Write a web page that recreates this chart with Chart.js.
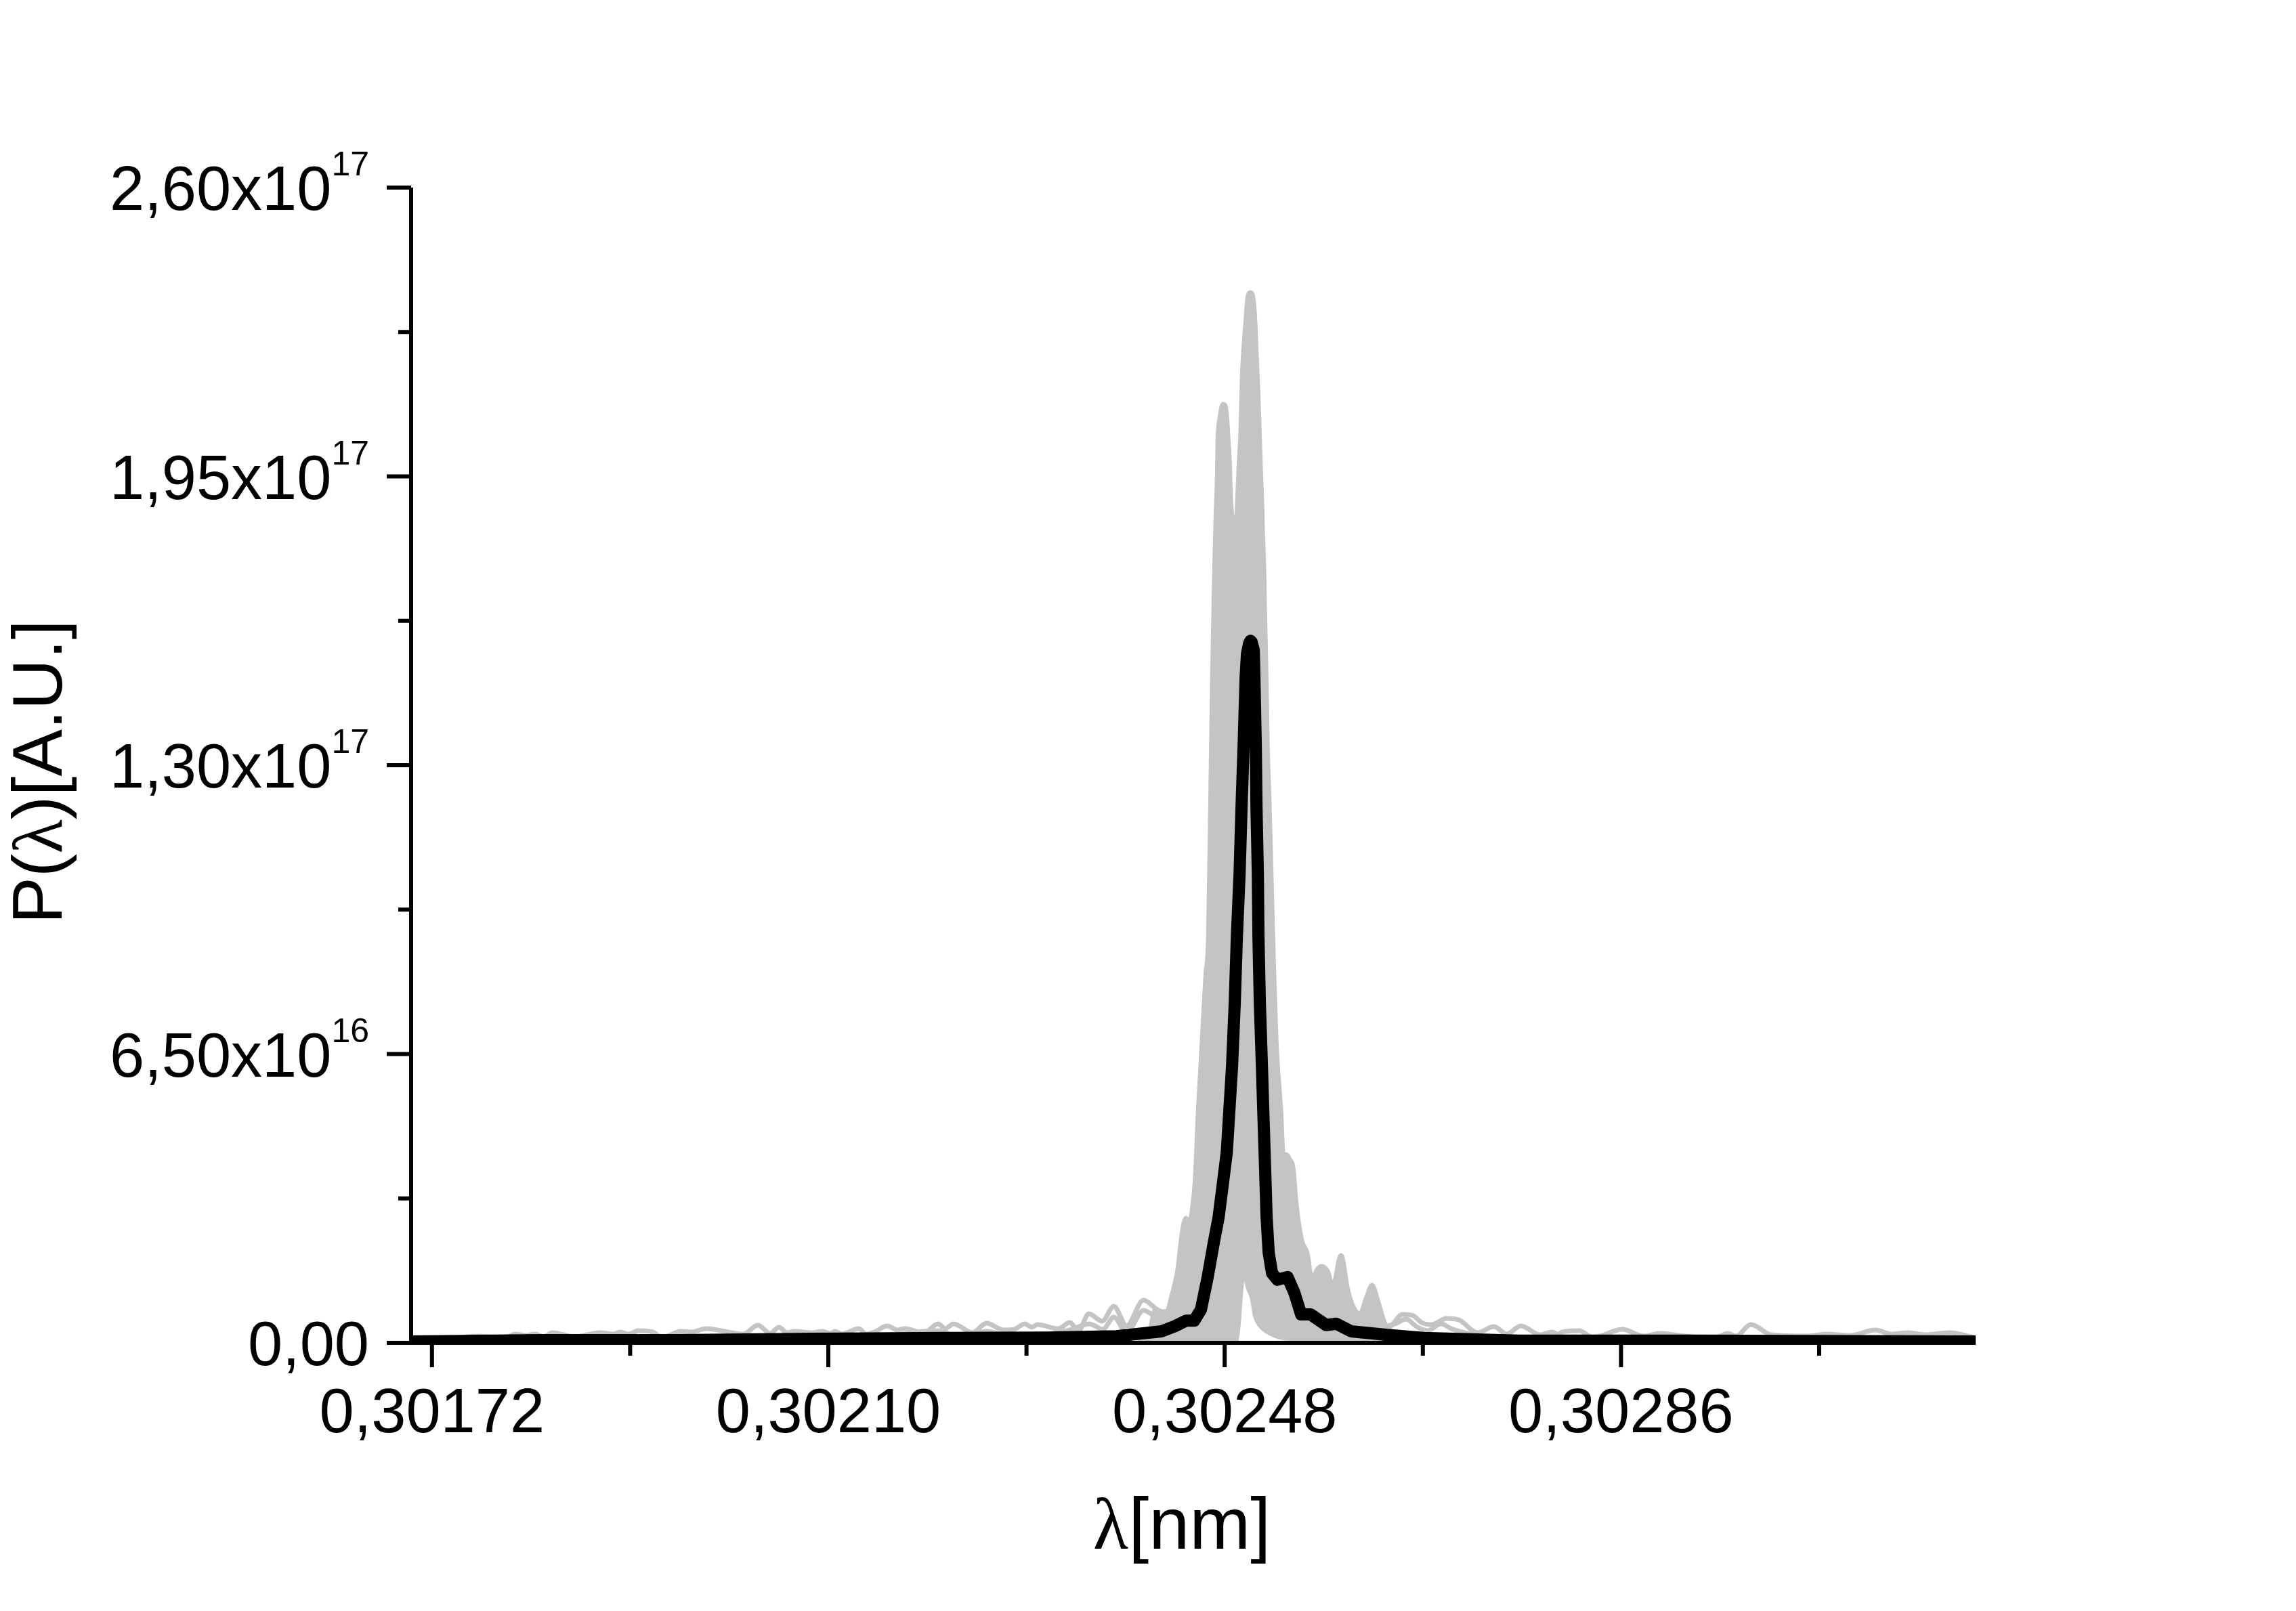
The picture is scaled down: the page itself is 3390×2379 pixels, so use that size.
<!DOCTYPE html>
<html>
<head>
<meta charset="utf-8">
<title>P(λ) spectra</title>
<script src="https://cdn.jsdelivr.net/npm/chart.js@4.4.1/dist/chart.umd.min.js"></script>
<style>
    html, body { margin: 0; padding: 0; background: #ffffff; }
    canvas { display: block; }
</style>
</head>
<body>
<canvas id="spectrumChart" width="3390" height="2379"></canvas>
<script>

// ======================
// DATA  (λ in nm, P in units of 10^17 A.U.)
// ======================

// mean spectrum (black)
const meanLambda = [
    0.3017000, 0.3018250, 0.3019548, 0.3020844, 0.3022141, 0.3023114, 0.3023763,
    0.3024197, 0.3024327, 0.3024430, 0.3024508, 0.3024573, 0.3024638, 0.3024696,
    0.3024742, 0.3024781, 0.3024820, 0.3024845, 0.3024871, 0.3024897, 0.3024917,
    0.3024943, 0.3024962, 0.3024982, 0.3025001, 0.3025014, 0.3025034, 0.3025047,
    0.3025059, 0.3025079, 0.3025085, 0.3025098, 0.3025105, 0.3025118, 0.3025124,
    0.3025137, 0.3025157, 0.3025170, 0.3025183, 0.3025202, 0.3025222, 0.3025254,
    0.3025306, 0.3025403, 0.3025468, 0.3025533, 0.3025624, 0.3025773, 0.3025870,
    0.3026013, 0.3026356, 0.3026707, 0.3027621, 0.3029275, 0.3031985
];
const meanPower = [
    0.003, 0.006, 0.006, 0.009, 0.011, 0.012, 0.015,
    0.026, 0.038, 0.050, 0.050, 0.075, 0.149, 0.226,
    0.283, 0.355, 0.428, 0.523, 0.623, 0.767, 0.914,
    1.056, 1.207, 1.346, 1.498, 1.551, 1.574, 1.580,
    1.577, 1.559, 1.498, 1.346, 1.207, 1.056, 0.914,
    0.767, 0.623, 0.523, 0.428, 0.283, 0.203, 0.157,
    0.142, 0.148, 0.113, 0.064, 0.064, 0.040, 0.043,
    0.026, 0.018, 0.011, 0.005, 0.005, 0.003
];

// single shots, upper bound of the dense core (grey)
const coreTopLambda = [
    0.3023957, 0.3024087, 0.3024132, 0.3024190, 0.3024249, 0.3024294, 0.3024346,
    0.3024398, 0.3024430, 0.3024463, 0.3024495, 0.3024521, 0.3024547, 0.3024573,
    0.3024593, 0.3024619, 0.3024644, 0.3024664, 0.3024683, 0.3024696, 0.3024703,
    0.3024716, 0.3024729, 0.3024735, 0.3024755, 0.3024774, 0.3024787, 0.3024807,
    0.3024820, 0.3024833, 0.3024845, 0.3024858, 0.3024878, 0.3024897, 0.3024910,
    0.3024923, 0.3024936, 0.3024956, 0.3024969, 0.3024982, 0.3025001, 0.3025021,
    0.3025046, 0.3025072, 0.3025092, 0.3025105, 0.3025118, 0.3025131, 0.3025144,
    0.3025157, 0.3025163, 0.3025176, 0.3025183, 0.3025196, 0.3025209, 0.3025228,
    0.3025247, 0.3025267, 0.3025293, 0.3025338, 0.3025364, 0.3025390, 0.3025423,
    0.3025455, 0.3025487, 0.3025539, 0.3025591, 0.3025637, 0.3025682, 0.3025727,
    0.3025786, 0.3025838, 0.3025915, 0.3025980, 0.3026032, 0.3026097, 0.3026162,
    0.3026214, 0.3026266, 0.3026324, 0.3026389
];
const coreTopPower = [
    0.0076, 0.0320, 0.0732, 0.0701, 0.0716, 0.1067, 0.1585,
    0.2560, 0.2804, 0.2713, 0.3094, 0.3810, 0.5227, 0.6294,
    0.7178, 0.8275, 0.9114, 1.1933, 1.4981, 1.6505, 1.7358,
    1.8578, 1.9461, 2.0284, 2.0818, 2.1077, 2.1123, 2.1077,
    2.0818, 2.0345, 1.9873, 1.8943, 1.8532, 1.8303, 1.8258,
    1.8943, 1.9660, 2.0589, 2.1763, 2.2342, 2.2921, 2.3515,
    2.3637, 2.3515, 2.2921, 2.2174, 2.1473, 2.0589, 1.9660,
    1.8852, 1.8258, 1.7389, 1.6505, 1.5164, 1.3457, 1.2070,
    1.0409, 0.8656, 0.6812, 0.5227, 0.4145, 0.4237, 0.4130,
    0.3947, 0.3094, 0.2301, 0.2012, 0.1417, 0.1631, 0.1722,
    0.1615, 0.1265, 0.1966, 0.1189, 0.0808, 0.0655, 0.1036,
    0.1295, 0.0960, 0.0503, 0.0122
];

// single shots, lower bound of the core (gap under the peak)
const coreLowLambda = [
    0.3023957, 0.3024904, 0.3024930, 0.3024956, 0.3024975, 0.3024995, 0.3025027,
    0.3025066, 0.3025092, 0.3025144, 0.3025254, 0.3025384, 0.3026389
];
const coreLowPower = [
    0.0030, 0.0030, 0.0381, 0.1189, 0.1494, 0.1494, 0.1234,
    0.0991, 0.0625, 0.0381, 0.0198, 0.0107, 0.0030
];

// single shots, left wing
const wingLeftLambda = [
    0.3017000, 0.3017375, 0.3017647, 0.3017894, 0.3017998, 0.3018095, 0.3018192,
    0.3018270, 0.3018354, 0.3018568, 0.3018815, 0.3018938, 0.3019003, 0.3019087,
    0.3019178, 0.3019314, 0.3019411, 0.3019586, 0.3019684, 0.3019833, 0.3020040,
    0.3020183, 0.3020326, 0.3020442, 0.3020527, 0.3020604, 0.3020676, 0.3020844,
    0.3020942, 0.3021020, 0.3021065, 0.3021130, 0.3021292, 0.3021363, 0.3021441,
    0.3021564, 0.3021661, 0.3021739, 0.3021914, 0.3022051, 0.3022122, 0.3022200,
    0.3022381, 0.3022517, 0.3022680, 0.3022783, 0.3022881, 0.3022952, 0.3023004,
    0.3023205, 0.3023315, 0.3023399, 0.3023497, 0.3023626, 0.3023737, 0.3023860,
    0.3024022, 0.3024145, 0.3024229
];
const wingLeftPower = [
    0.0122, 0.0107, 0.0152, 0.0107, 0.0198, 0.0168, 0.0198,
    0.0137, 0.0229, 0.0137, 0.0229, 0.0198, 0.0244, 0.0198,
    0.0274, 0.0244, 0.0122, 0.0259, 0.0244, 0.0320, 0.0244,
    0.0198, 0.0396, 0.0213, 0.0351, 0.0229, 0.0259, 0.0229,
    0.0259, 0.0213, 0.0259, 0.0198, 0.0320, 0.0198, 0.0244,
    0.0381, 0.0290, 0.0320, 0.0213, 0.0427, 0.0320, 0.0427,
    0.0229, 0.0442, 0.0290, 0.0305, 0.0427, 0.0351, 0.0411,
    0.0320, 0.0457, 0.0274, 0.0655, 0.0488, 0.0823, 0.0381,
    0.0960, 0.0762, 0.0655
];

const wingLeft2Lambda = [
    0.3021493, 0.3022051, 0.3022271, 0.3022517, 0.3022790, 0.3023315, 0.3023503,
    0.3023633, 0.3023737, 0.3023860, 0.3024022, 0.3024165, 0.3024249
];
const wingLeft2Power = [
    0.0122, 0.0274, 0.0122, 0.0259, 0.0122, 0.0290, 0.0427,
    0.0305, 0.0579, 0.0229, 0.0732, 0.0533, 0.0472
];

// single shots, right wing
const wingRightLambda = [
    0.3026343, 0.3026369, 0.3026506, 0.3026609, 0.3026687, 0.3026784, 0.3026927,
    0.3027044, 0.3027225, 0.3027381, 0.3027504, 0.3027640, 0.3027822, 0.3027939,
    0.3027997, 0.3028036, 0.3028198, 0.3028334, 0.3028613, 0.3028814, 0.3028970,
    0.3029210, 0.3029489, 0.3029625, 0.3029703, 0.3029845, 0.3030040, 0.3030403,
    0.3030558, 0.3030798, 0.3031038, 0.3031194, 0.3031356, 0.3031512, 0.3031752,
    0.3031985
];
const wingRightPower = [
    0.0381, 0.0351, 0.0640, 0.0610, 0.0457, 0.0411, 0.0549,
    0.0518, 0.0229, 0.0366, 0.0198, 0.0381, 0.0183, 0.0244,
    0.0198, 0.0244, 0.0274, 0.0122, 0.0305, 0.0152, 0.0213,
    0.0152, 0.0107, 0.0213, 0.0152, 0.0411, 0.0183, 0.0152,
    0.0198, 0.0168, 0.0290, 0.0198, 0.0229, 0.0183, 0.0229,
    0.0122
];

const wingRight2Lambda = [
    0.3026292, 0.3026434, 0.3026538, 0.3026648, 0.3026745, 0.3026875, 0.3026972,
    0.3027102, 0.3027329, 0.3027718
];
const wingRight2Power = [
    0.0351, 0.0427, 0.0533, 0.0351, 0.0274, 0.0427, 0.0320,
    0.0229, 0.0122, 0.0107
];

// axes
const xMajorTicks = [0.30172, 0.30210, 0.30248, 0.30286];
const xTickLabels = ["0,30172", "0,30210", "0,30248", "0,30286"];
const xMinorTicks = [0.30191, 0.30229, 0.30267, 0.30305];

const yMajorTicks = [0, 0.65, 1.30, 1.95, 2.60];
const yTickLabels = ["0,00", "6,50x10", "1,30x10", "1,95x10", "2,60x10"];
const yTickExponents = ["", "16", "17", "17", "17"];
const yMinorTicks = [0.325, 0.975, 1.625, 2.275];


// ======================
// HELPERS
// ======================

const GREY = "#c4c4c4";
const SANS = "'Liberation Sans', Arial, sans-serif";
const SERIF = "'Liberation Serif', 'Times New Roman', serif";

function points(xs, ys) {
    return xs.map((x, i) => ({ x: x, y: ys[i] }));
}

function greyLine(xs, ys) {
    return {
        data: points(xs, ys),
        borderColor: GREY,
        borderWidth: 7,
        pointRadius: 0,
        fill: false,
        cubicInterpolationMode: "monotone",
        borderJoinStyle: "round",
        borderCapStyle: "round",
        order: 2
    };
}

// draw a row of text runs with different fonts
function drawRuns(ctx, runs, cx, baseline) {
    let total = 0;
    runs.forEach(r => {
        ctx.font = r.font;
        r.w = ctx.measureText(r.text).width;
        total += r.w;
    });
    let x = cx - total / 2;
    ctx.textAlign = "left";
    ctx.textBaseline = "alphabetic";
    runs.forEach(r => {
        ctx.font = r.font;
        ctx.fillText(r.text, x, baseline);
        x += r.w;
    });
}


// ======================
// AXES PLUGIN (Origin style)
// ======================

const originAxes = {
    id: "originAxes",
    afterDatasetsDraw(chart) {
        const ctx = chart.ctx;
        const xs = chart.scales.x;
        const ys = chart.scales.y;
        const a = chart.chartArea;

        ctx.save();
        ctx.strokeStyle = "#000";
        ctx.fillStyle = "#000";
        ctx.lineWidth = 6;
        ctx.lineJoin = "miter";
        ctx.lineCap = "butt";

        ctx.beginPath();
        ctx.moveTo(a.left, a.top);
        ctx.lineTo(a.left, a.bottom);
        ctx.lineTo(a.right, a.bottom);
        ctx.stroke();

        // ticks
        ctx.beginPath();
        xMajorTicks.forEach(v => {
            const px = xs.getPixelForValue(v);
            ctx.moveTo(px, a.bottom);
            ctx.lineTo(px, a.bottom + 36);
        });
        xMinorTicks.forEach(v => {
            const px = xs.getPixelForValue(v);
            ctx.moveTo(px, a.bottom);
            ctx.lineTo(px, a.bottom + 19);
        });
        yMajorTicks.forEach(v => {
            const py = ys.getPixelForValue(v);
            ctx.moveTo(a.left, py);
            ctx.lineTo(a.left - 36, py);
        });
        yMinorTicks.forEach(v => {
            const py = ys.getPixelForValue(v);
            ctx.moveTo(a.left, py);
            ctx.lineTo(a.left - 19, py);
        });
        ctx.stroke();

        // x tick labels
        ctx.font = "92px " + SANS;
        ctx.textAlign = "center";
        ctx.textBaseline = "alphabetic";
        xMajorTicks.forEach((v, i) => {
            ctx.fillText(xTickLabels[i], xs.getPixelForValue(v), a.bottom + 132);
        });

        // y tick labels with superscript exponent
        const right = a.left - 62;
        ctx.textAlign = "right";
        yMajorTicks.forEach((v, i) => {
            const py = ys.getPixelForValue(v);
            let supW = 0;
            if (yTickExponents[i]) {
                ctx.font = "50px " + SANS;
                supW = ctx.measureText(yTickExponents[i]).width;
                ctx.fillText(yTickExponents[i], right, py + 33 - 51);
            }
            ctx.font = "92px " + SANS;
            ctx.fillText(yTickLabels[i], right - supW, py + 33);
        });

        // axis titles
        drawRuns(ctx, [
            { text: "λ", font: "108px " + SERIF },
            { text: "[nm]", font: "108px " + SANS }
        ], 1745, 2287);

        ctx.translate(91, 1140);
        ctx.rotate(-Math.PI / 2);
        drawRuns(ctx, [
            { text: "P(", font: "104px " + SANS },
            { text: "λ", font: "104px " + SERIF },
            { text: ")[A.U.]", font: "104px " + SANS }
        ], 0, 0);

        ctx.restore();
    }
};


// ======================
// CHART
// ======================

new Chart(
    document.getElementById("spectrumChart"),
    {
        type: "line",

        data: {
            datasets: [
                {
                    label: "mean",
                    data: points(meanLambda, meanPower),
                    borderColor: "#000",
                    borderWidth: 18,
                    pointRadius: 0,
                    tension: 0,
                    fill: false,
                    borderJoinStyle: "round",
                    borderCapStyle: "round",
                    order: 0
                },
                {
                    label: "core top",
                    data: points(coreTopLambda, coreTopPower),
                    borderColor: GREY,
                    backgroundColor: GREY,
                    borderWidth: 7,
                    pointRadius: 0,
                    cubicInterpolationMode: "monotone",
                    borderJoinStyle: "round",
                    fill: { target: 2, above: GREY, below: GREY },
                    order: 3
                },
                {
                    label: "core low",
                    data: points(coreLowLambda, coreLowPower),
                    borderColor: GREY,
                    borderWidth: 7,
                    pointRadius: 0,
                    cubicInterpolationMode: "monotone",
                    fill: false,
                    order: 3
                },
                greyLine(wingLeftLambda, wingLeftPower),
                greyLine(wingLeft2Lambda, wingLeft2Power),
                greyLine(wingRightLambda, wingRightPower),
                greyLine(wingRight2Lambda, wingRight2Power)
            ]
        },

        options: {
            responsive: false,
            animation: false,
            devicePixelRatio: 1,
            layout: {
                padding: { left: 607, top: 277, right: 473, bottom: 396 }
            },
            plugins: {
                legend: { display: false },
                tooltip: { enabled: false }
            },
            scales: {
                x: { type: "linear", min: 0.30170, max: 0.30320, display: false },
                y: { type: "linear", min: 0, max: 2.6, display: false }
            }
        },

        plugins: [originAxes]
    }
);

</script>
</body>
</html>
